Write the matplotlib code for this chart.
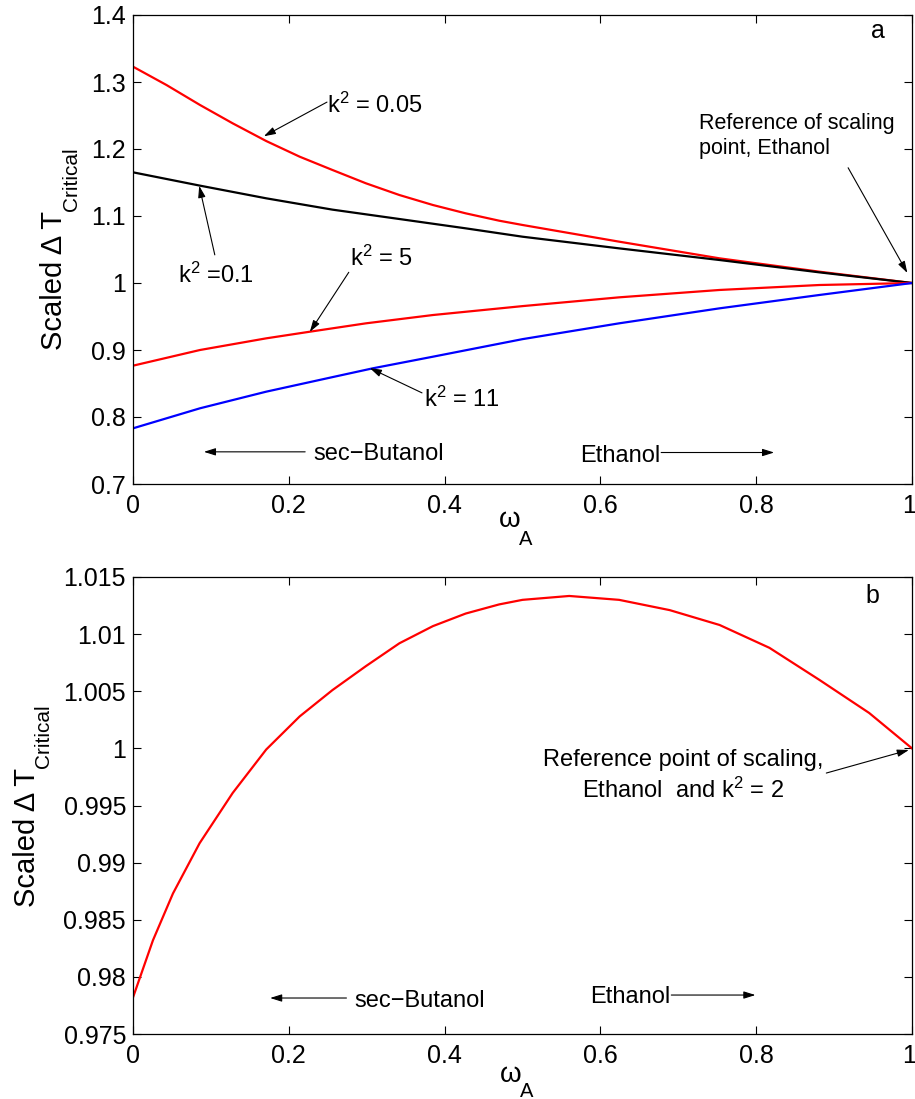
import numpy as np
import matplotlib
matplotlib.use("Agg")
import matplotlib.pyplot as plt
from matplotlib.transforms import ScaledTranslation

plt.rcParams['font.family'] = ['Liberation Sans', 'DejaVu Sans']
plt.rcParams['mathtext.fontset'] = 'custom'
plt.rcParams['mathtext.rm'] = 'Liberation Sans'
plt.rcParams['mathtext.it'] = 'Liberation Sans:italic'

# panel a: scaled delta T_critical vs omega_A for several k^2
w_k005 = [0.0, 0.043, 0.086, 0.128, 0.171, 0.214, 0.256, 0.299, 0.342, 0.385,
          0.427, 0.47, 0.5, 0.624, 0.753, 0.881, 1.0]
k005 = [1.3229, 1.2955, 1.2657, 1.2383, 1.2119, 1.1885, 1.1687, 1.1488, 1.1313,
        1.1164, 1.104, 1.093, 1.0866, 1.0617, 1.0368, 1.0169, 1.0]
w_k01 = [0.0, 0.086, 0.171, 0.256, 0.342, 0.427, 0.5, 0.624, 0.753, 0.881, 1.0]
k01 = [1.1652, 1.1453, 1.1264, 1.1095, 1.0955, 1.0816, 1.0691, 1.0517, 1.0343,
       1.0159, 1.0]
w_k5 = [0.0, 0.086, 0.171, 0.227, 0.299, 0.385, 0.5, 0.624, 0.753, 0.881, 1.0]
k5 = [0.8766, 0.900, 0.9174, 0.9273, 0.9398, 0.9522, 0.9655, 0.9786, 0.9896,
      0.997, 1.0]
w_k11 = [0.0, 0.086, 0.171, 0.256, 0.308, 0.385, 0.5, 0.624, 0.753, 0.881, 1.0]
k11 = [0.7831, 0.813, 0.8378, 0.8595, 0.8727, 0.89, 0.9162, 0.9398, 0.9622,
       0.9821, 1.0]

# panel b: k^2 = 2
w_k2 = [0.0, 0.0256, 0.0513, 0.0855, 0.128, 0.171, 0.214, 0.256, 0.299, 0.342,
        0.385, 0.427, 0.47, 0.5, 0.56, 0.624, 0.689, 0.753, 0.817, 0.881,
        0.945, 1.0]
k2 = [0.9782, 0.9832, 0.9873, 0.9917, 0.9961, 0.9999, 1.0028, 1.0051, 1.0072,
      1.0092, 1.0107, 1.0118, 1.0126, 1.0130, 1.01334, 1.0130, 1.0121, 1.0108,
      1.0088, 1.0060, 1.0031, 1.0]

xticks = [0, 0.2, 0.4, 0.6, 0.8, 1.0]
xticklabels = ['0', '0.2', '0.4', '0.6', '0.8', '1']
yticks_a = [0.7, 0.8, 0.9, 1.0, 1.1, 1.2, 1.3, 1.4]
yticklabels_a = ['0.7', '0.8', '0.9', '1', '1.1', '1.2', '1.3', '1.4']
yticks_b = [0.975, 0.98, 0.985, 0.99, 0.995, 1.0, 1.005, 1.01, 1.015]
yticklabels_b = ['0.975', '0.98', '0.985', '0.99', '0.995', '1', '1.005', '1.01', '1.015']

W, H = 915, 1099
fig = plt.figure(figsize=(W / 100, H / 100), dpi=100)
ax1 = fig.add_axes([133 / W, 1 - 484 / H, 779 / W, 469 / H])
ax2 = fig.add_axes([133 / W, 1 - 1034 / H, 779 / W, 457 / H])

arrow = dict(arrowstyle='-|>,head_length=0.7,head_width=0.22', color='black',
             lw=0.8, shrinkA=0, shrinkB=0)
fs = 17

for ax in (ax1, ax2):
    ax.set_xlim(0, 1)
    ax.set_xticks(xticks)
    ax.set_xticklabels(xticklabels)
    ax.tick_params(direction='in', top=True, right=True, length=6, width=0.8,
                   labelsize=18, pad=5)
    ax.tick_params(axis='x', pad=7)
    for s in ax.spines.values():
        s.set_linewidth(0.9)
    last = ax.get_xticklabels()[-1]
    last.set_transform(last.get_transform() + ScaledTranslation(-3 / 100, 0, fig.dpi_scale_trans))


def px(x, y):
    return x / W, 1 - y / H


# axis labels written as separate pieces so the subscripts sit low like the original
def ylabel(x_main, y_main, x_sub, y_sub):
    fig.text(*px(x_main, y_main), 'Scaled \u0394 T', fontsize=21, rotation=90,
             rotation_mode='anchor', ha='left', va='baseline')
    fig.text(*px(x_sub, y_sub), 'Critical', fontsize=15, rotation=90,
             rotation_mode='anchor', ha='left', va='baseline')


def xlabel(x_main, y_main, x_sub, y_sub):
    fig.text(*px(x_main, y_main), '\u03c9', fontsize=20, ha='left', va='baseline')
    fig.text(*px(x_sub, y_sub), 'A', fontsize=14.5, ha='left', va='baseline')


ylabel(62, 350, 77, 211)
ylabel(35, 907, 49, 768)
xlabel(499, 527, 519, 545)
xlabel(500, 1082, 520, 1097)

ax1.plot(w_k005, k005, color='#ff0000', lw=1.6)
ax1.plot(w_k01, k01, color='black', lw=1.6)
ax1.plot(w_k5, k5, color='#ff0000', lw=1.6)
ax1.plot(w_k11, k11, color='#0000ff', lw=1.6)
ax1.set_ylim(0.7, 1.4)
ax1.set_yticks(yticks_a)
ax1.set_yticklabels(yticklabels_a)

ax1.text(0.249, 1.2537, r'k$^2$ = 0.05', fontsize=fs, ha='left', va='baseline')
ax1.annotate('', xy=(0.168, 1.219), xytext=(0.249, 1.270), arrowprops=arrow)
ax1.text(0.0577, 1.0, r'k$^2$ =0.1', fontsize=fs, ha='left', va='baseline')
ax1.annotate('', xy=(0.085, 1.145), xytext=(0.105, 1.042), arrowprops=arrow)
ax1.text(0.278, 1.0254, r'k$^2$ = 5', fontsize=fs, ha='left', va='baseline')
ax1.annotate('', xy=(0.227, 0.927), xytext=(0.277, 1.016), arrowprops=arrow)
ax1.text(0.373, 0.8149, r'k$^2$ = 11', fontsize=fs, ha='left', va='baseline')
ax1.annotate('', xy=(0.304, 0.873), xytext=(0.371, 0.836), arrowprops=arrow)
ax1.text(0.231, 0.7358, 'sec\u2212Butanol', fontsize=fs, ha='left', va='baseline')
ax1.annotate('', xy=(0.091, 0.748), xytext=(0.221, 0.748), arrowprops=arrow)
ax1.text(0.574, 0.7333, 'Ethanol', fontsize=fs, ha='left', va='baseline')
ax1.annotate('', xy=(0.823, 0.747), xytext=(0.678, 0.747), arrowprops=arrow)
ax1.text(0.956, 1.366, 'a', fontsize=18, ha='center', va='baseline')
ax1.text(0.726, 1.2299, 'Reference of scaling', fontsize=15.5, ha='left', va='baseline')
ax1.text(0.726, 1.1925, 'point, Ethanol', fontsize=15.5, ha='left', va='baseline')
ax1.annotate('', xy=(0.994, 1.015), xytext=(0.918, 1.172), arrowprops=arrow)

ax2.plot(w_k2, k2, color='#ff0000', lw=1.6)
ax2.set_ylim(0.975, 1.015)
ax2.set_yticks(yticks_b)
ax2.set_yticklabels(yticklabels_b)

ax2.text(0.949, 1.01275, 'b', fontsize=18, ha='center', va='baseline')
ax2.text(0.7064, 0.99846, 'Reference point of scaling,', fontsize=fs,
         ha='center', va='baseline')
ax2.text(0.7064, 0.99566, 'Ethanol  and k$^2$ = 2', fontsize=fs,
         ha='center', va='baseline')
ax2.annotate('', xy=(0.996, 0.99986), xytext=(0.890, 0.99784), arrowprops=arrow)
ax2.text(0.2846, 0.97739, 'sec\u2212Butanol', fontsize=fs, ha='left', va='baseline')
ax2.annotate('', xy=(0.176, 0.97815), xytext=(0.274, 0.97815), arrowprops=arrow)
ax2.text(0.587, 0.97769, 'Ethanol', fontsize=fs, ha='left', va='baseline')
ax2.annotate('', xy=(0.799, 0.97841), xytext=(0.691, 0.97841), arrowprops=arrow)

fig.savefig('out.png', dpi=100)
